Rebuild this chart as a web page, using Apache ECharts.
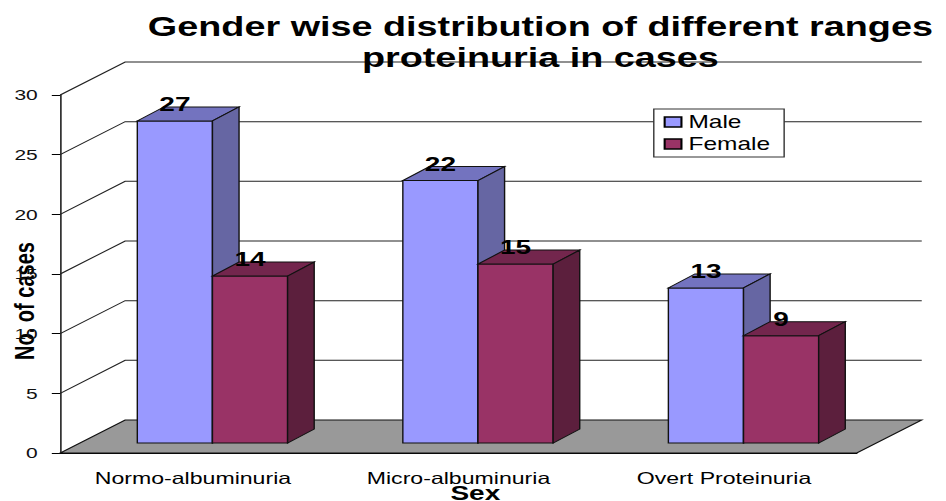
<!DOCTYPE html>
<html>
<head>
<meta charset="utf-8">
<script src="https://cdn.jsdelivr.net/npm/echarts@6/dist/echarts.min.js"></script>
<style>
  html, body { margin: 0; padding: 0; background: #fff; overflow: hidden; }
  /* the reference picture is stretched sideways, so draw narrow and stretch */
  #chart { width: 676px; height: 501px; transform: scaleX(1.4); transform-origin: 0 0; }
</style>
</head>
<body>
<div id="chart"></div>
<script>
const categories = ['Normo-albuminuria', 'Micro-albuminuria', 'Overt Proteinuria'];
const maleValues = [27, 22, 13];
const femaleValues = [14, 15, 9];
const yTicks = [0, 5, 10, 15, 20, 25, 30];

const fontFamily = '"Liberation Sans", Arial, sans-serif';

// 3d look: depth of the floor / walls and of each bar (chart px)
const DEPTH = { x: 46.4, y: -33 };
const FRONT = { x: DEPTH.x * 0.3, y: DEPTH.y * 0.3 }; // bars stand a bit back from the front edge
const BAR_DEPTH = { x: 19, y: -14 };
const BAR_FRAC = 0.283; // width of one bar, as part of the category band

const maleColors = { front: '#9999FF', top: '#7373BF', side: '#6666A3' };
const femaleColors = { front: '#993366', top: '#73264D', side: '#5C1F3D' };

const chart = echarts.init(document.getElementById('chart'), null, { renderer: 'svg' });

function wallRenderer(params, api) {
  const cs = params.coordSys;
  const v = api.value(1);
  const y = api.coord([0, v])[1];
  const xl = cs.x;
  const xr = cs.x + cs.width;
  if (v === 0) {
    // floor
    return {
      type: 'polygon',
      shape: { points: [[xl, y], [xr, y], [xr + DEPTH.x, y + DEPTH.y], [xl + DEPTH.x, y + DEPTH.y]] },
      style: { fill: '#999999', stroke: '#111', lineWidth: 1 }
    };
  }
  return {
    type: 'polyline',
    shape: { points: [[xl, y], [xl + DEPTH.x, y + DEPTH.y], [xr + DEPTH.x, y + DEPTH.y]] },
    style: { fill: null, stroke: '#222', lineWidth: 1 }
  };
}

function barRenderer(isLeft, colors) {
  return function (params, api) {
    const cat = api.value(0);
    const val = api.value(1);
    const base = api.coord([cat, 0]);
    const topPt = api.coord([cat, val]);
    const w = api.size([1, 0])[0] * BAR_FRAC;
    const x0 = base[0] + (isLeft ? -w : 0) + FRONT.x;
    const x1 = x0 + w;
    const yb = base[1] + FRONT.y;
    const yt = topPt[1] + FRONT.y;
    const dx = BAR_DEPTH.x;
    const dy = BAR_DEPTH.y;
    const edge = { stroke: '#111', lineWidth: 1 };
    return {
      type: 'group',
      children: [
        {
          type: 'rect',
          shape: { x: x0, y: yt, width: w, height: yb - yt },
          style: Object.assign({ fill: colors.front }, edge)
        },
        {
          type: 'polygon',
          shape: { points: [[x0, yt], [x1, yt], [x1 + dx, yt + dy], [x0 + dx, yt + dy]] },
          style: Object.assign({ fill: colors.top }, edge)
        },
        {
          type: 'polygon',
          shape: { points: [[x1, yt], [x1 + dx, yt + dy], [x1 + dx, yb + dy], [x1, yb]] },
          style: Object.assign({ fill: colors.side }, edge)
        },
        {
          type: 'text',
          x: (x0 + x1) / 2,
          y: yt - 17,
          style: {
            text: String(val),
            fontSize: 20,
            fontWeight: 'bold',
            fontFamily,
            fill: '#000',
            align: 'center',
            verticalAlign: 'middle'
          }
        }
      ]
    };
  };
}

const option = {
  animation: false,
  backgroundColor: '#fff',
  textStyle: { fontFamily },
  title: {
    text: 'Gender wise distribution of different ranges\nproteinuria in cases',
    left: 386,
    top: 11,
    padding: 0,
    textAlign: 'center',
    textStyle: { fontSize: 27, fontWeight: 'bold', color: '#000', lineHeight: 31, fontFamily }
  },
  legend: {
    data: ['Male', 'Female'],
    orient: 'vertical',
    left: 467,
    top: 109,
    icon: 'rect',
    itemWidth: 12,
    itemHeight: 10,
    itemGap: 4,
    padding: [4, 10, 4, 7],
    backgroundColor: '#fff',
    borderColor: '#333',
    borderWidth: 1,
    itemStyle: { borderColor: '#000', borderWidth: 1.5 },
    textStyle: { fontSize: 17.5, color: '#000', fontFamily }
  },
  grid: { left: 43, right: 64, top: 95, bottom: 48, containLabel: false, outerBoundsMode: 'none' },
  xAxis: {
    type: 'category',
    data: categories,
    name: 'Sex',
    nameLocation: 'middle',
    nameGap: 30,
    nameMoveOverlap: false,
    nameTextStyle: { fontSize: 20, fontWeight: 'bold', color: '#000', padding: [0, 0, 0, 24] },
    axisLine: { lineStyle: { color: '#000', width: 1 } },
    axisTick: { length: 8, lineStyle: { color: '#000' } },
    axisLabel: { fontSize: 16.5, color: '#000', margin: 17 },
    splitLine: { show: false }
  },
  yAxis: {
    type: 'value',
    min: 0,
    max: 30,
    interval: 5,
    axisLine: { show: true, lineStyle: { color: '#000', width: 1 } },
    axisTick: { show: true, length: 6, lineStyle: { color: '#000' } },
    axisLabel: { fontSize: 15, color: '#111', margin: 16 },
    splitLine: { show: false }
  },
  graphic: [
    {
      type: 'text',
      x: 17,
      y: 301,
      rotation: Math.PI / 2,
      style: {
        text: 'No. of cases',
        fontSize: 20,
        fontWeight: 'bold',
        fontFamily,
        fill: '#000',
        align: 'center',
        verticalAlign: 'middle'
      }
    }
  ],
  series: [
    {
      name: 'walls',
      type: 'custom',
      silent: true,
      z: 1,
      clip: false,
      renderItem: wallRenderer,
      data: yTicks.map(v => [0, v])
    },
    {
      name: 'Male',
      type: 'custom',
      z: 2,
      clip: false,
      itemStyle: { color: maleColors.front },
      renderItem: barRenderer(true, maleColors),
      data: maleValues.map((v, i) => [i, v])
    },
    {
      name: 'Female',
      type: 'custom',
      z: 2,
      clip: false,
      itemStyle: { color: femaleColors.front },
      renderItem: barRenderer(false, femaleColors),
      data: femaleValues.map((v, i) => [i, v])
    }
  ]
};

chart.setOption(option);
</script>
</body>
</html>
